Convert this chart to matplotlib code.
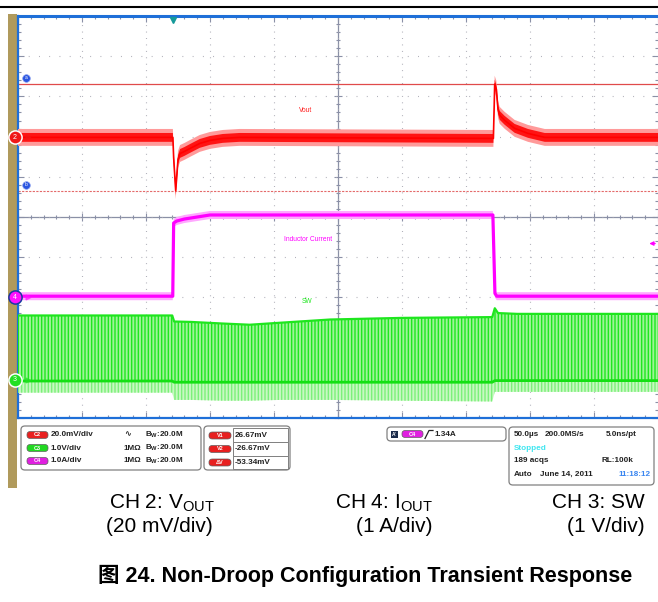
import matplotlib
matplotlib.use("Agg")
import matplotlib.pyplot as plt
import numpy as np
from matplotlib import patches, transforms
from matplotlib.lines import Line2D
from matplotlib.ticker import MultipleLocator

plt.rcParams['font.family'] = ['Liberation Sans', 'Noto Sans CJK SC', 'DejaVu Sans']
plt.rcParams['mathtext.fontset'] = 'custom'
plt.rcParams['mathtext.rm'] = 'Liberation Sans'
plt.rcParams['mathtext.it'] = 'Liberation Sans:italic'
plt.rcParams['mathtext.bf'] = 'Liberation Sans:bold'
plt.rcParams['hatch.linewidth'] = 1.0

# ---- data (time in us) ----
# CH2 Vout, mV around nominal
vout_t = [0, 121.0, 121.6, 123.2, 124.2, 125.0, 126.6, 130, 134.4, 142, 150, 160, 173,
          371.4, 372.0, 372.4, 373.7, 375.0, 376.3, 380.2, 388, 398.4, 411.5, 500]
vout_mv = [0, 0, -10, -26.5, -18, -11, -8, -7, -5.5, -3, -1.5, -0.5, 0,
           -0.5, 15, 26.5, 24, 14, 11, 8.5, 4.5, 2, 0, 0]
vout_noise_core = 2.2   # mV
vout_noise_peak = 4.2   # mV

# CH4 inductor current, A
il_t = [0, 120.9, 121.6, 124, 130, 140, 150, 371.0, 372.6, 374, 500]
il_a = [0.03, 0.03, 1.85, 1.9, 1.95, 2.0, 2.05, 2.05, 0.1, 0.03, 0.03]

# CH3 switch node envelope, V
sw_t = [0, 120.5, 122.0, 135, 160, 181, 205, 244, 300, 370.5, 372.5, 375, 390, 500]
sw_top = [1.60, 1.60, 1.45, 1.44, 1.40, 1.37, 1.42, 1.50, 1.54, 1.56, 1.78, 1.66, 1.64, 1.64]
sw_low = [-0.03, -0.03, -0.06, -0.06, -0.06, -0.06, -0.06, -0.06, -0.06, -0.06, -0.02, -0.02, -0.02, -0.02]
sw_bot = [-0.32, -0.32, -0.50, -0.50, -0.52, -0.52, -0.50, -0.50, -0.52, -0.54, -0.30, -0.30, -0.30, -0.30]

# scope settings
ch2_off, ch4_off, ch3_off = 1.98, -2.0, -4.05   # divisions
ch2_scale, ch4_scale, ch3_scale = 20.0, 1.0, 1.0
cursor_v1, cursor_v2 = 26.67, -26.67
trig_level = 1.34
trig_time = 121

W, H = 658, 602


def fx(x):
    return x / W


def fy(y):
    return 1 - y / H


fig = plt.figure(figsize=(W / 100, H / 100), dpi=100)

# page furniture
fig.add_artist(Line2D([0, 1], [fy(7), fy(7)], color='black', lw=1.5, transform=fig.transFigure))
fig.add_artist(patches.Rectangle((fx(8), fy(488)), 9 / W, 474 / H, transform=fig.transFigure,
                                 fc='#b09a5c', ec='none'))

ax = fig.add_axes([fx(18), fy(418), 640 / W, 402 / H])
ax.set_xlim(0, 500)
ax.set_ylim(-5, 5)
tickc = '#8a90a6'
ax.xaxis.set_major_locator(MultipleLocator(50))
ax.xaxis.set_minor_locator(MultipleLocator(10))
ax.yaxis.set_major_locator(MultipleLocator(1))
ax.yaxis.set_minor_locator(MultipleLocator(0.2))
ax.tick_params(which='both', direction='in', top=True, right=True, color=tickc, width=0.8,
               labelleft=False, labelbottom=False)
ax.tick_params(which='major', length=4.5)
ax.tick_params(which='minor', length=2.5)
ax.xaxis.grid(True, which='major', color='#a8a8b2', linestyle=(0, (0.8, 4.99)), lw=0.8)
ax.yaxis.grid(True, which='major', color='#a8a8b2', linestyle=(0, (0.8, 8.42)), lw=0.8)
ax.spines['right'].set_visible(False)
ax.spines['top'].set_color('#1e6fd8')
ax.spines['top'].set_linewidth(2.2)
ax.spines['left'].set_color('#1e6fd8')
ax.spines['left'].set_linewidth(1.6)
ax.spines['bottom'].set_color('#1e6fd8')
ax.spines['bottom'].set_linewidth(1.6)

# centre cross with ticks
ax2 = fig.add_axes(ax.get_position(), facecolor='none')
ax2.set_xlim(0, 500)
ax2.set_ylim(-5, 5)
ax2.xaxis.set_major_locator(MultipleLocator(50))
ax2.xaxis.set_minor_locator(MultipleLocator(10))
ax2.yaxis.set_major_locator(MultipleLocator(1))
ax2.yaxis.set_minor_locator(MultipleLocator(0.2))
for s in ['top', 'right']:
    ax2.spines[s].set_visible(False)
ax2.spines['left'].set_position(('data', 250))
ax2.spines['bottom'].set_position(('data', 0))
for s in ['left', 'bottom']:
    ax2.spines[s].set_color(tickc)
    ax2.spines[s].set_linewidth(0.9)
ax2.tick_params(which='both', direction='inout', color=tickc, width=0.8,
                labelleft=False, labelbottom=False)
ax2.tick_params(which='major', length=6)
ax2.tick_params(which='minor', length=3.5)
ax2.set_zorder(0.5)
ax.set_zorder(1)
ax.patch.set_alpha(0)

# cursors
yv1 = ch2_off + cursor_v1 / ch2_scale
yv2 = ch2_off + cursor_v2 / ch2_scale
ax.axhline(yv1, color='#e04a4a', lw=0.9, zorder=2)
ax.axhline(yv2, color='#e46a6a', lw=0.8, ls=(0, (2, 1.2)), zorder=2)

# CH3 switch node
t = np.array(sw_t)
ytop = ch3_off + np.array(sw_top) / ch3_scale
ylow = ch3_off + np.array(sw_low) / ch3_scale
ybot = ch3_off + np.array(sw_bot) / ch3_scale
ax.fill_between(t, ylow, ybot, fc='#c8f9c2', ec='#7cf07a', hatch='|||||', lw=0, zorder=3)
ax.fill_between(t, ylow, ytop, fc='#9ef598', ec='#1ee61e', hatch='|||||', lw=0, zorder=3)
ax.plot(t, ytop, color='#1ee61e', lw=1.6, zorder=3)
ax.plot(t, ylow, color='#14e014', lw=2.0, zorder=3)

# CH4 inductor current
yi = ch4_off + np.array(il_a) / ch4_scale
ax.fill_between(il_t, yi - 0.1, yi + 0.1, fc='#ffa8ff', lw=0, zorder=3)
ax.plot(il_t, yi, color='#ff00ff', lw=2.3, zorder=4)

# CH2 Vout
yv = ch2_off + np.array(vout_mv) / ch2_scale
ax.fill_between(vout_t, yv - vout_noise_peak / ch2_scale, yv + vout_noise_peak / ch2_scale,
                fc='#ff9a9a', lw=0, zorder=3)
ax.fill_between(vout_t, yv - vout_noise_core / ch2_scale, yv + vout_noise_core / ch2_scale,
                fc='#ff1414', lw=0, zorder=3)
ax.plot(vout_t, yv, color='#ff0000', lw=1.2, zorder=4)

# trace labels
ax.text(225, ch2_off + 0.66, 'Vout', color='#ff2020', fontsize=4.8, ha='center', va='center')
ax.text(226.5, -0.55, 'Inductor Current', color='#ff00ff', fontsize=4.8, ha='center', va='center')
ax.text(226, -2.11, 'SW', color='#1ee61e', fontsize=4.8, ha='center', va='center')

# markers
bt = transforms.blended_transform_factory(ax.transAxes, ax.transData)
tb = transforms.blended_transform_factory(ax.transData, ax.transAxes)
mx = -3 / 640
for yoff, c, ring, lab in [(ch2_off, '#f01818', 'white', '2'),
                           (ch4_off, '#ff10ff', '#1a3aa0', '4'),
                           (ch3_off, '#22e022', 'white', '3')]:
    ax.plot([mx], [yoff], transform=bt, marker='o', ms=9.5, mfc=c, mec=ring, mew=1.1,
            clip_on=False, zorder=6)
    ax.text(mx, yoff, lab, transform=bt, color='white', fontsize=5, ha='center',
            va='center', zorder=7)
    ax.plot([10 / 640], [yoff], transform=bt, marker='>', ms=3.5, color=c, alpha=0.6,
            clip_on=False, zorder=6)
for yc, lab in [(yv1 + 0.15, 'a'), (yv2 + 0.15, 'b')]:
    ax.plot([8 / 640], [yc], transform=bt, marker='o', ms=5.5, mfc='#2a55e0', mec='#8aa0f0',
            mew=0.5, clip_on=False, zorder=6)
    ax.text(8 / 640, yc, lab, transform=bt, color='white', fontsize=3.5, ha='center',
            va='center', zorder=7)
ax.plot([trig_time], [0.99], transform=tb, marker='v', ms=5, color='#159a9a',
        clip_on=False, zorder=6)
ax.annotate('', xy=(0.982, ch4_off + trig_level), xytext=(1.0, ch4_off + trig_level),
            xycoords=bt, textcoords=bt,
            arrowprops=dict(arrowstyle='-|>', color='#ff00ff', lw=0.9, mutation_scale=6))

# ---- info panel ----
txt = dict(fontsize=5.9, fontweight='bold', color='#222222', va='center')


def box(x0, y0, x1, y1):
    fig.add_artist(patches.FancyBboxPatch((fx(x0), fy(y1)), (x1 - x0) / W, (y1 - y0) / H,
                                          boxstyle='round,pad=0,rounding_size=0.006',
                                          transform=fig.transFigure, fc='white',
                                          ec='#808080', lw=0.9))


def badge(x0, x1, yc, label, color):
    h = 7
    fig.add_artist(patches.FancyBboxPatch((fx(x0), fy(yc + h / 2)), (x1 - x0) / W, h / H,
                                          boxstyle='round,pad=0,rounding_size=0.005',
                                          transform=fig.transFigure, fc=color, ec='#606060',
                                          lw=0.5))
    fig.text(fx((x0 + x1) / 2), fy(yc), label, color='white', fontsize=4.0, ha='center',
             va='center', fontweight='bold')


box(21, 426, 201, 470)
rows = [(435, 'C2', '#e82020', '20.0mV/div', '\u223f'),
        (448, 'C3', '#22d822', '1.0V/div', '1M\u03a9'),
        (461, 'C4', '#e020e0', '1.0A/div', '1M\u03a9')]
for yc, lab, col, scale, coup in rows:
    badge(27, 48, yc, lab, col)
    fig.text(fx(51), fy(yc), scale, **txt)
    fig.text(fx(124), fy(yc), coup, **txt)
    fig.text(fx(145), fy(yc), r'B$_{\mathbf{W}}$:20.0M', **txt)

box(204, 426, 290, 470)
for (yc, lab, val), (c0, c1) in zip([(435.5, 'V1', '26.67mV'), (449, 'V2', '-26.67mV'),
                                     (462.5, '\u0394V', '-53.34mV')],
                                    [(428.3, 442.3), (442.3, 455.7), (455.7, 469.3)]):
    badge(209, 231, yc, lab, '#e82020')
    fig.add_artist(patches.Rectangle((fx(233.3), fy(c1)), 55 / W, (c1 - c0) / H,
                                     transform=fig.transFigure, fc='white', ec='#808080', lw=0.7))
    fig.text(fx(235), fy(yc), val, **txt)

box(387, 427, 506, 441)
fig.add_artist(patches.Rectangle((fx(391), fy(438)), 7 / W, 7 / H, transform=fig.transFigure,
                                 fc='#1c2c4c', ec='none'))
fig.text(fx(394.5), fy(434.5), "A'", color='white', fontsize=3.5, ha='center', va='center',
         fontweight='bold')
badge(402, 423, 434, 'C4', '#e020e0')
fig.add_artist(Line2D([fx(425), fx(429), fx(433)], [fy(438.5), fy(430.5), fy(430.5)],
                      color='#222222', lw=0.9, transform=fig.transFigure))
fig.text(fx(435), fy(434), '1.34A', **txt)

box(509, 427, 654, 485)
fig.text(fx(514), fy(434), '50.0\u00b5s', **txt)
fig.text(fx(545), fy(434), '200.0MS/s', **txt)
fig.text(fx(606), fy(434), '5.0ns/pt', **txt)
fig.text(fx(514), fy(448), 'Stopped', **dict(txt, color='#3fe6f0'))
fig.text(fx(514), fy(461), '189 acqs', **txt)
fig.text(fx(601), fy(461), 'RL:100k', **txt)
fig.text(fx(514), fy(474), 'Auto', **txt)
fig.text(fx(540), fy(474), 'June 14, 2011', **txt)
fig.text(fx(651), fy(474), '11:18:12', **dict(txt, color='#3a86f0', ha='right'))

# ---- annotations below the screen ----
ann = dict(fontsize=15, color='black', va='center', ha='right')
fig.text(fx(215), fy(503), r'CH 2: V$_{\mathrm{OUT}}$', **ann)
fig.text(fx(213), fy(527), '(20 mV/div)', **ann)
fig.text(fx(433), fy(503), r'CH 4: I$_{\mathrm{OUT}}$', **ann)
fig.text(fx(433), fy(527), '(1 A/div)', **ann)
fig.text(fx(645), fy(503), 'CH 3: SW', **ann)
fig.text(fx(645), fy(527), '(1 V/div)', **ann)
fig.text(fx(365), fy(576), '\u56fe 24. Non-Droop Configuration Transient Response',
         fontsize=15.5, fontweight='bold', ha='center', va='center')

fig.savefig('out.png', dpi=100)
